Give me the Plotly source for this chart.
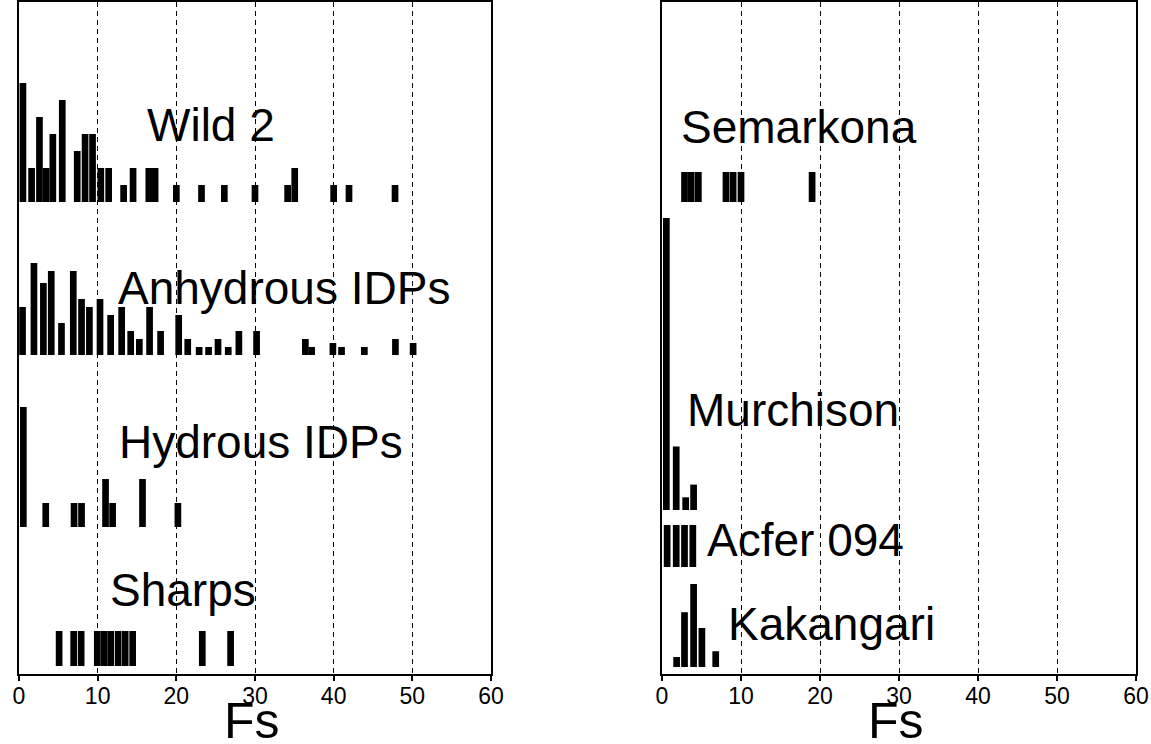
import plotly.graph_objects as go

# ---------------- data ----------------
# left panel
wild2_fs = [0.5, 1.6, 2.6, 3.45, 4.3, 5.5, 7.4, 8.4, 9.35, 10.4, 11.4, 13.3, 14.5, 16.5, 17.3,
            20.0, 23.2, 26.1, 30.0, 34.15, 35.05, 40.0, 41.95, 47.8]
wild2_n = [7, 2, 5, 2, 4, 6, 3, 4, 4, 2, 2, 1, 2, 2, 2,
           1, 1, 1, 1, 1, 2, 1, 1, 1]

anhyd_fs = [0.45, 1.9, 3.1, 4.1, 5.4, 6.9, 7.95, 8.95, 10.3, 11.65, 13.05, 14.2, 15.3, 16.6, 18.0,
            20.3, 21.45, 22.9, 24.1, 25.3, 26.6, 27.95, 30.2, 36.4, 37.2, 39.9, 41.0, 43.9, 47.85, 50.1]
anhyd_n = [6, 11.5, 9, 10.5, 4, 10.5, 7, 6, 7, 5, 6, 3, 2, 6, 3,
           5, 2, 1, 1, 2, 1, 3, 3, 2, 1, 1.5, 1, 1, 2, 1.5]

hydr_fs = [0.55, 3.4, 7.0, 7.95, 11.0, 11.9, 15.7, 20.2]
hydr_n = [5, 1, 1, 1, 2, 1, 2, 1]

sharps_fs = [5.1, 6.95, 7.9, 9.95, 10.8, 11.65, 12.6, 13.5, 14.45, 23.3, 26.9]
sharps_n = [1, 1, 1, 1, 1, 1, 1, 1, 1, 1, 1]

# right panel
semar_fs = [2.85, 3.7, 4.6, 8.1, 9.0, 10.0, 19.0]
semar_n = [1, 1, 1, 1, 1, 1, 1]

murch_fs = [0.55, 1.8, 3.0, 4.0]
murch_n = [23, 5, 1, 2]

acfer_fs = [0.65, 1.8, 2.85, 3.9]
acfer_n = [1, 1, 1, 1]

kakan_fs = [1.85, 2.85, 4.0, 5.05, 6.8]
kakan_n = [1.2, 6.6, 10, 4.7, 1.9]

x_ticks = [0, 10, 20, 30, 40, 50, 60]
x_title = "Fs"

# ---------------- layout helpers ----------------
# each group: (fs, counts, label, base, scale, label_x, label_y, axis)
groups = [
    (wild2_fs, wild2_n, "Wild 2", 472, 17, 16.05, 549, 1),
    (anhyd_fs, anhyd_n, "Anhydrous IDPs", 319, 8, 12.3, 386, 1),
    (hydr_fs, hydr_n, "Hydrous IDPs", 147, 24, 12.5, 232, 1),
    (sharps_fs, sharps_n, "Sharps", 8, 35, 11.25, 84, 1),
    (semar_fs, semar_n, "Semarkona", 472, 30, 2.1, 547, 2),
    (murch_fs, murch_n, "Murchison", 164, 12.7, 2.9, 264, 2),
    (acfer_fs, acfer_n, "Acfer 094", 107, 42, 5.45, 134, 2),
    (kakan_fs, kakan_n, "Kakangari", 7, 8.3, 8.05, 50, 2),
]

FONT = "Liberation Sans, Arial, sans-serif"
W, H = 1151, 744
fig = go.Figure()
annotations = []
for fs, n, label, base, scale, lx, ly, ax in groups:
    xa = "x" if ax == 1 else "x2"
    ya = "y" if ax == 1 else "y2"
    fig.add_trace(go.Bar(
        x=fs, y=[v * scale for v in n], base=base, width=0.85,
        marker=dict(color="black", line=dict(width=0)),
        xaxis=xa, yaxis=ya, showlegend=False, hoverinfo="skip"))
    annotations.append(dict(
        x=lx, y=ly, xref=xa, yref=ya, text=label, showarrow=False,
        xanchor="left", yanchor="middle",
        font=dict(family=FONT, size=46, color="black")))

left_dom = [19 / W, 491 / W]
right_dom = [662 / W, 1136 / W]
for dom in (left_dom, right_dom):
    annotations.append(dict(
        x=(dom[0] + dom[1]) / 2 - 3 / W, y=1 - 721 / H, xref="paper", yref="paper",
        text=x_title, showarrow=False, xanchor="center", yanchor="middle",
        font=dict(family=FONT, size=50, color="black")))

ydom = [1 - 674 / H, 1 - 2 / H]
axis_common = dict(
    range=[0, 60], tickvals=x_ticks, ticktext=[str(t) for t in x_ticks],
    ticks="outside", ticklen=5, tickwidth=1.5, tickcolor="black",
    ticklabelstandoff=-5,
    showline=True, linecolor="black", linewidth=2, mirror=True,
    showgrid=True, gridcolor="black", gridwidth=1.4, griddash="5px,4px",
    zeroline=False, automargin=False,
    tickfont=dict(family=FONT, size=23, color="black"),
)
yaxis_common = dict(
    range=[0, 672], showticklabels=False, ticks="", showgrid=False, zeroline=False,
    showline=True, linecolor="black", linewidth=2, mirror=True, domain=ydom,
    fixedrange=True, automargin=False,
)

fig.update_layout(
    width=W, height=H, margin=dict(l=0, r=0, t=0, b=0, autoexpand=False),
    paper_bgcolor="white", plot_bgcolor="white", barmode="overlay",
    xaxis=dict(domain=left_dom, anchor="y", **axis_common),
    yaxis=dict(anchor="x", **yaxis_common),
    xaxis2=dict(domain=right_dom, anchor="y2", **axis_common),
    yaxis2=dict(anchor="x2", **yaxis_common),
    annotations=annotations,
)

fig.write_html(
    "out.html",
    config={"displayModeBar": False},
    post_script="document.body.style.margin='0';document.body.style.padding='0';"
                "document.body.style.overflow='hidden';",
)
